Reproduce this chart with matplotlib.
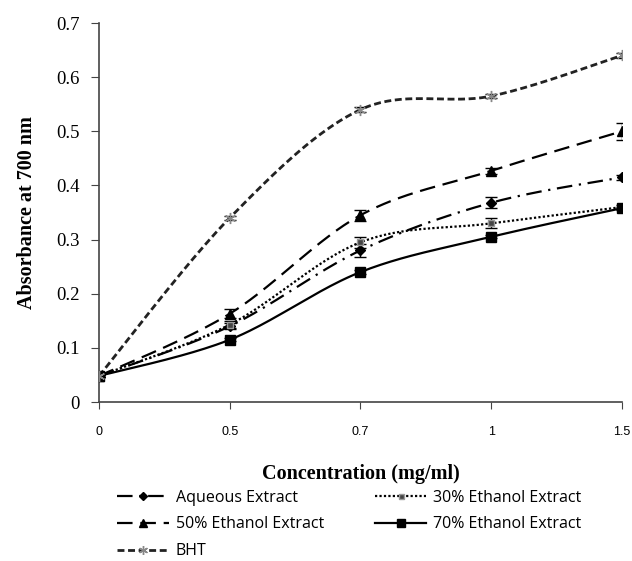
import numpy as np
import matplotlib
matplotlib.use("Agg")
import matplotlib.pyplot as plt
from matplotlib.lines import Line2D

categories = ["0", "0.5", "0.7", "1", "1.5"]
aqueous = [0.048, 0.140, 0.280, 0.368, 0.415]
eth30 = [0.048, 0.143, 0.295, 0.330, 0.360]
eth50 = [0.048, 0.163, 0.345, 0.427, 0.500]
eth70 = [0.048, 0.115, 0.240, 0.305, 0.358]
bht = [0.048, 0.340, 0.540, 0.565, 0.640]
aqueous_err = [0.002, 0.006, 0.012, 0.010, 0.005]
eth30_err = [0.002, 0.006, 0.010, 0.009, 0.003]
eth50_err = [0.002, 0.008, 0.010, 0.005, 0.016]
eth70_err = [0.002, 0.003, 0.003, 0.003, 0.003]
bht_err = [0.002, 0.003, 0.004, 0.004, 0.004]
labels = ["Aqueous Extract", "30% Ethanol Extract", "50% Ethanol Extract",
          "70% Ethanol Extract", "BHT"]


def smooth(y, n=40):
    y = np.asarray(y, float)
    x = np.arange(len(y), dtype=float)
    xs, ys = [], []
    N = len(y)
    for i in range(N - 1):
        i0 = max(i - 1, 0)
        i3 = min(i + 2, N - 1)
        p0 = np.array([x[i0], y[i0]])
        p1 = np.array([x[i], y[i]])
        p2 = np.array([x[i + 1], y[i + 1]])
        p3 = np.array([x[i3], y[i3]])
        c1 = p1 + (p2 - p0) / 6.0
        c2 = p2 - (p3 - p1) / 6.0
        t = np.linspace(0, 1, n)[:, None]
        pts = ((1 - t) ** 3) * p1 + 3 * ((1 - t) ** 2) * t * c1 + 3 * (1 - t) * t ** 2 * c2 + t ** 3 * p2
        if i > 0:
            pts = pts[1:]
        xs.append(pts[:, 0])
        ys.append(pts[:, 1])
    return np.concatenate(xs), np.concatenate(ys)


fig = plt.figure(figsize=(6.32, 5.61), dpi=100)
ax = fig.add_axes([0.1566, 0.2834, 0.8275, 0.6756])

series = [
    (aqueous, aqueous_err, dict(color="black", lw=1.6, dashes=(7, 3, 1, 3)),
     dict(marker="D", ms=5, mfc="black", mec="black")),
    (eth30, eth30_err, dict(color="black", lw=1.6, dashes=(1, 1)),
     dict(marker="s", ms=4.5, mfc="#444444", mec="#999999")),
    (eth50, eth50_err, dict(color="black", lw=1.6, dashes=(7, 3.5)),
     dict(marker="^", ms=7, mfc="black", mec="black")),
    (eth70, eth70_err, dict(color="black", lw=1.6),
     dict(marker="s", ms=7, mfc="black", mec="black")),
    (bht, bht_err, dict(color="#222222", lw=2.0, dashes=(2.5, 1.3)),
     dict(marker=(6, 2, 0), ms=8, mfc="#888888", mec="#888888", mew=1.0)),
]

handles = []
xi = np.arange(len(categories))
for (vals, err, lstyle, mstyle), lab in zip(series, labels):
    sx, sy = smooth(vals)
    ax.plot(sx, sy, zorder=2, **lstyle)
    ax.errorbar(xi, vals, yerr=err, fmt="none", ecolor="black", elinewidth=1.0,
                capsize=4, capthick=1.0, zorder=3)
    ax.plot(xi, vals, ls="none", zorder=4, **mstyle)
    mleg = dict(mstyle)
    mleg["ms"] = mstyle["ms"] * 0.8
    handles.append(Line2D([], [], label=lab, **lstyle, **mleg))

ax.set_xlim(0, len(categories) - 1)
ax.set_ylim(0, 0.7)
ax.set_xticks(xi)
ax.set_xticklabels(categories, fontsize=9, family="Liberation Sans")
ax.set_yticks(np.arange(0, 0.71, 0.1))
ax.set_yticklabels(["0"] + ["%.1f" % v for v in np.arange(0.1, 0.71, 0.1)],
                   fontsize=13.5, family="Liberation Serif")
ax.tick_params(axis="x", length=5, direction="out", pad=12, color="#444444")
ax.tick_params(axis="y", length=6, direction="out", pad=8, color="#444444")
for s in ["top", "right"]:
    ax.spines[s].set_visible(False)
for s in ["left", "bottom"]:
    ax.spines[s].set_color("#444444")
    ax.spines[s].set_linewidth(1.2)

ax.set_ylabel("Absorbance at 700 nm", fontsize=14.5, family="Liberation Serif",
              fontweight="bold", labelpad=14)
ax.set_xlabel("Concentration (mg/ml)", fontsize=14.5, family="Liberation Serif",
              fontweight="bold", labelpad=19)

order = [0, 2, 4, 1, 3]
leg = fig.legend([handles[i] for i in order], [labels[i] for i in order],
                 ncol=2, loc="upper left", bbox_to_anchor=(0.163, 0.153),
                 frameon=False, prop={"family": "Open Sans", "size": 11.5},
                 handlelength=3.2, columnspacing=3.2, labelspacing=0.68,
                 handletextpad=0.45)

fig.savefig("out.png", dpi=100)
